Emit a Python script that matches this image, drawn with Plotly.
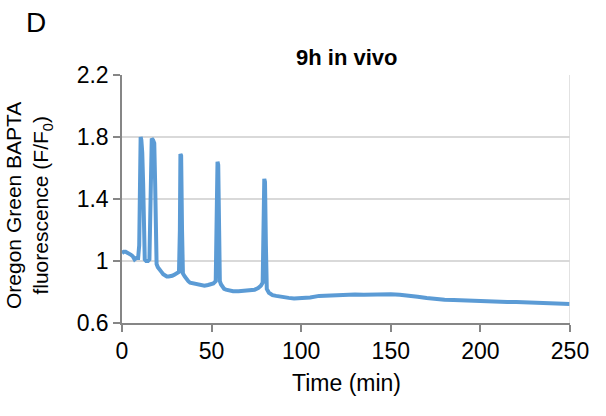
import plotly.graph_objects as go

time_min = [0, 1, 2, 3, 4, 5, 6, 7, 8, 9, 9.6, 10.0, 10.4, 10.8, 11.3, 11.8, 12.3, 12.7,
            13.5, 14.5, 15.3, 15.8, 16.1, 16.6, 17.3, 18.0, 18.5, 18.9, 19.3, 20, 21, 22,
            23, 24, 25, 26, 27, 28, 29, 30, 31, 31.8, 32.3, 32.6, 33.0, 33.5, 34, 35, 36,
            37, 38, 40, 42, 44, 46, 48, 50, 51, 52.3, 52.9, 53.3, 53.7, 54.2, 54.6, 55.2,
            56, 57, 58, 60, 62, 65, 68, 71, 74, 76, 77.5, 78.5, 79.0, 79.4, 79.8, 80.3,
            80.8, 82, 84, 86, 88, 90, 93, 96, 100, 105, 110, 115, 120, 125, 130, 135, 140,
            145, 150, 155, 160, 165, 170, 175, 180, 185, 190, 195, 200, 205, 210, 215, 220,
            225, 230, 235, 240, 245, 250]

fluorescence = [1.05, 1.06, 1.06, 1.055, 1.05, 1.04, 1.03, 1.01, 1.02, 1.02, 1.1, 1.72, 1.80,
                1.78, 1.70, 1.50, 1.10, 1.01, 1.0, 1.0, 1.01, 1.40, 1.79, 1.79, 1.78, 1.76,
                1.50, 1.0, 0.98, 0.96, 0.94, 0.93, 0.915, 0.905, 0.90, 0.90, 0.90, 0.905,
                0.91, 0.915, 0.92, 0.93, 1.20, 1.69, 1.68, 1.20, 0.92, 0.90, 0.88, 0.87,
                0.86, 0.855, 0.845, 0.84, 0.84, 0.845, 0.85, 0.855, 0.87, 1.20, 1.64, 1.62,
                1.20, 0.87, 0.85, 0.835, 0.82, 0.815, 0.81, 0.805, 0.805, 0.81, 0.81, 0.815,
                0.825, 0.84, 0.86, 1.20, 1.53, 1.51, 1.10, 0.82, 0.795, 0.78, 0.775, 0.77,
                0.765, 0.762, 0.758, 0.76, 0.765, 0.775, 0.778, 0.78, 0.782, 0.784, 0.783,
                0.785, 0.784, 0.785, 0.782, 0.778, 0.77, 0.762, 0.755, 0.75, 0.748, 0.745,
                0.742, 0.74, 0.738, 0.737, 0.735, 0.736, 0.733, 0.73, 0.728, 0.726, 0.725,
                0.722]

x_ticks = [0, 50, 100, 150, 200, 250]
y_ticks = [0.6, 1.0, 1.4, 1.8, 2.2]
y_tick_text = ["0.6", "1", "1.4", "1.8", "2.2"]

FONT = "Arial, Liberation Sans, sans-serif"
W, H = 606, 416
# plot area in screen pixels: x 122..570, y 75..323
L, T = 122, 75
R, B = W - 570, H - 323
PW, PH = W - L - R, H - T - B

fig = go.Figure()
fig.add_trace(go.Scatter(x=time_min, y=fluorescence, mode="lines",
                         line=dict(color="#5B9BD5", width=4), hoverinfo="skip"))

fig.update_layout(
    width=W, height=H,
    margin=dict(l=L, r=R, t=T, b=B, autoexpand=False),
    paper_bgcolor="white", plot_bgcolor="white",
    showlegend=False,
    font=dict(family=FONT, color="#000000", size=23),
)
fig.update_xaxes(
    range=[0, 250], tickvals=x_ticks, ticks="outside", ticklen=7, tickcolor="#868686",
    tickwidth=1.5, showline=True, linecolor="#868686", linewidth=1.5, showgrid=False,
    zeroline=False, tickfont=dict(size=23, family=FONT, color="#000"), automargin=False,
)
fig.update_yaxes(
    range=[0.6, 2.2], tickvals=y_ticks, ticktext=y_tick_text, ticks="outside", ticklen=7,
    tickcolor="#868686", tickwidth=1.5, showline=True, linecolor="#868686", linewidth=1.5,
    showgrid=True, gridcolor="#D9D9D9", gridwidth=1.5, zeroline=False, automargin=False,
    tickfont=dict(size=23, family=FONT, color="#000"),
)
# right border of plot area
fig.add_shape(type="line", xref="x", yref="paper", x0=250, x1=250, y0=0, y1=1,
              line=dict(color="#D9D9D9", width=1.5))

def px(xs):
    return (xs - L) / PW

def py(ys):
    return (H - B - ys) / PH

fig.add_annotation(text="<b>9h in vivo</b>", xref="paper", yref="paper", x=px(346), y=py(58),
                   showarrow=False, xanchor="center", yanchor="middle",
                   font=dict(size=22, family=FONT, color="#000"))
fig.add_annotation(text="Time (min)", xref="paper", yref="paper", x=px(346), y=py(383),
                   showarrow=False, xanchor="center", yanchor="middle",
                   font=dict(size=23, family=FONT, color="#000"))
fig.add_annotation(text="Oregon Green BAPTA<br>fluorescence (F/F<sub>0</sub>)",
                   xref="paper", yref="paper", x=px(29), y=py(206), textangle=-90,
                   showarrow=False, xanchor="center", yanchor="middle",
                   font=dict(size=21, family=FONT, color="#000"))
fig.add_annotation(text="D", xref="paper", yref="paper", x=px(36), y=py(22),
                   showarrow=False, xanchor="center", yanchor="middle",
                   font=dict(size=28, family=FONT, color="#000"))

fig.write_html("out.html", config={"displayModeBar": False},
               post_script="document.body.style.margin='0px';document.body.style.padding='0px';")
